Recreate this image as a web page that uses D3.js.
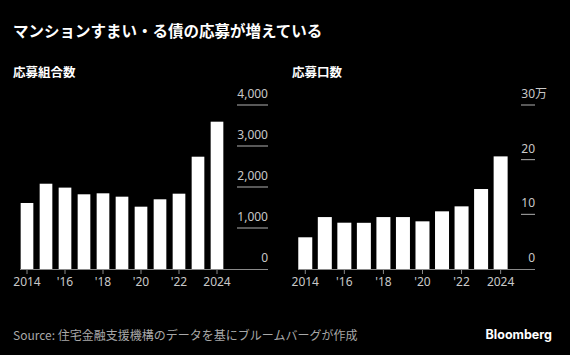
<!DOCTYPE html>
<html><head><meta charset="utf-8">
<script src="https://cdn.jsdelivr.net/npm/d3@7"></script>
<style>
body{margin:0;background:#000;}
svg{display:block;font-family:"Noto Sans CJK JP","Noto Sans",sans-serif;}
.num{font-family:"Noto Sans","Noto Sans CJK JP",sans-serif;}
</style></head>
<body>
<svg id="c" width="570" height="355"></svg>
<script>
const years = [2014,2015,2016,2017,2018,2019,2020,2021,2022,2023,2024];
const unions = [1610,2080,1985,1822,1846,1764,1520,1700,1837,2739,3593];
const units = [5.8,9.5,8.47,8.45,9.5,9.5,8.72,10.55,11.46,14.63,20.6];
const leftTicks = [0,1000,2000,3000,4000];
const rightTicks = [0,10,20,30];
const xTickYears = [2014,2016,2018,2020,2022,2024];
const xFmt = y => (y===2014||y===2024) ? String(y) : "'" + String(y).slice(2);

const svg = d3.select("#c");
svg.append("rect").attr("width",570).attr("height",355).attr("fill","#000");

svg.append("text").attr("x",13).attr("y",37).attr("fill","#fff")
  .attr("font-size",15.5).attr("font-weight","bold")
  .text("マンションすまい・る債の応募が増えている");

function panel(opts){
  const {title,titleX,data,ticks,yMax,range,bandPad,axisX0,axisX1,gridX0,fmt,suffix} = opts;
  svg.append("text").attr("x",titleX).attr("y",77).attr("fill","#fff")
    .attr("font-size",12.5).attr("font-weight","bold").text(title);
  const x = d3.scaleBand().domain(years).range(range).paddingInner(bandPad).paddingOuter(bandPad/2);
  const y = d3.scaleLinear().domain([0,yMax]).range([269,105]);
  const g = svg.append("g");
  ticks.forEach(t=>{
    if(t!==0){
      g.append("line").attr("x1",gridX0).attr("x2",axisX1).attr("y1",y(t)).attr("y2",y(t))
        .attr("stroke","#b0b0b0").attr("stroke-width",1);
    }
    g.append("text").attr("class","num").attr("x",axisX1).attr("y",y(t)-7).attr("text-anchor","end")
      .attr("fill","#c8c8c8").attr("font-size",12).text(fmt(t));
    if(suffix && t===yMax){
      g.append("text").attr("x",axisX1).attr("y",y(t)-7).attr("fill","#c8c8c8")
        .attr("font-size",12).text(suffix);
    }
  });
  svg.append("g").selectAll("rect").data(years).join("rect")
    .attr("x",d=>x(d)).attr("width",x.bandwidth())
    .attr("y",(d,i)=>y(data[i])).attr("height",(d,i)=>y(0)-y(data[i]))
    .attr("fill","#fff");
  svg.append("line").attr("x1",axisX0).attr("x2",axisX1).attr("y1",269.5).attr("y2",269.5)
    .attr("stroke","#8a8a8a").attr("stroke-width",1);
  const xa = svg.append("g");
  xTickYears.forEach(yr=>{
    const cx = x(yr)+x.bandwidth()/2;
    xa.append("line").attr("x1",cx).attr("x2",cx).attr("y1",270).attr("y2",274)
      .attr("stroke","#8a8a8a").attr("stroke-width",1);
    xa.append("text").attr("class","num").attr("x",cx).attr("y",286).attr("text-anchor","middle")
      .attr("fill","#c8c8c8").attr("font-size",12).text(xFmt(yr));
  });
}

panel({title:"応募組合数",titleX:13,data:unions,ticks:leftTicks,yMax:4000,
  range:[17.5,226.5],bandPad:0.333,axisX0:20,axisX1:268,gridX0:237,
  fmt:d3.format(",")});
panel({title:"応募口数",titleX:292,data:units,ticks:rightTicks,yMax:30,
  range:[295.5,510.4],bandPad:0.2835,axisX0:298,axisX1:535,gridX0:521,
  fmt:d=>String(d),suffix:"万"});

svg.append("text").attr("x",13).attr("y",340).attr("fill","#a8a8a8")
  .attr("font-size",12).text("Source: 住宅金融支援機構のデータを基にブルームバーグが作成");
svg.append("text").attr("x",552).attr("y",339).attr("text-anchor","end").attr("fill","#fff")
  .attr("font-size",12.5).attr("font-weight","bold").attr("font-family","Inter, 'Noto Sans', sans-serif")
  .text("Bloomberg");
</script>
</body></html>
